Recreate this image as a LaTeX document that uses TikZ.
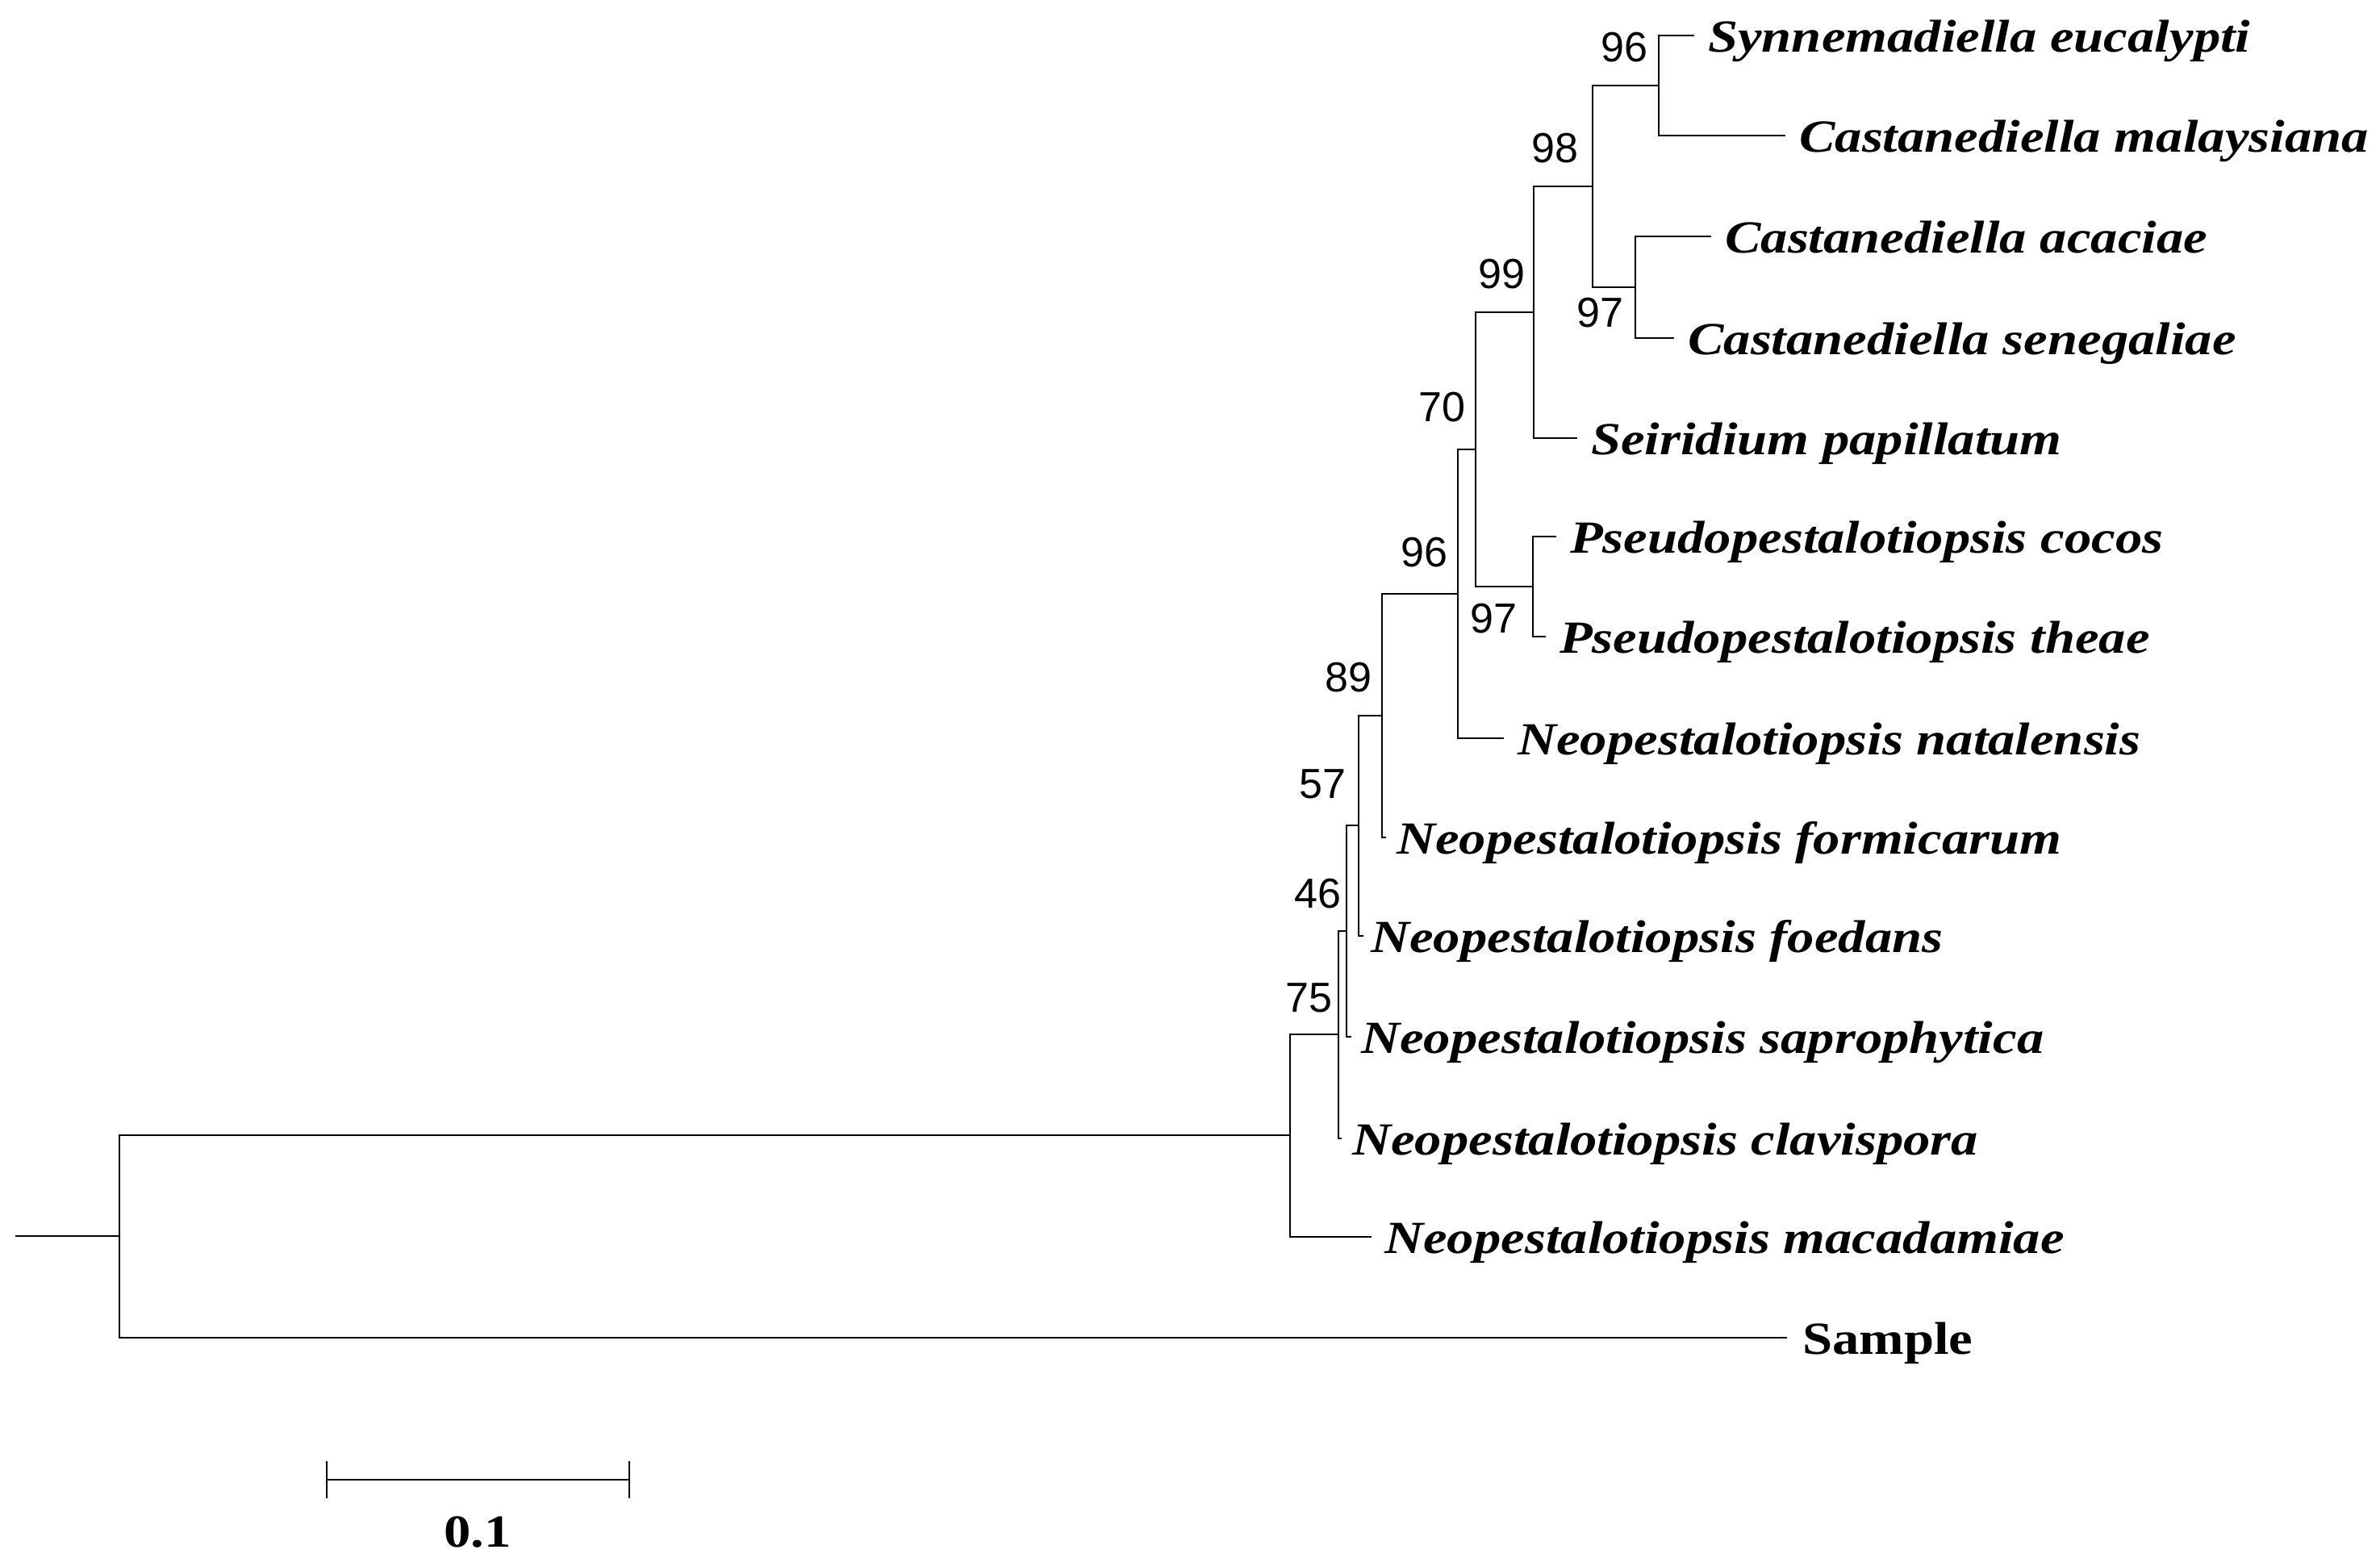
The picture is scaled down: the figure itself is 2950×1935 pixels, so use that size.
\documentclass[tikz,border=0pt]{standalone}
\usepackage{fontspec}
\setmainfont{Liberation Serif}
\newfontfamily\taxfont[FakeStretch=1.17]{Liberation Serif}
\newfontfamily\bootfont{Liberation Sans}
\usetikzlibrary{positioning}

\begin{document}
\begin{tikzpicture}[x=0.01cm,y=-0.01cm,line width=0.7pt,
  taxon/.style={anchor=base west,inner sep=0pt,font=\taxfont\fontsize{16.2}{18}\selectfont\bfseries\itshape},
  sample/.style={anchor=base west,inner sep=0pt,font=\taxfont\fontsize{16.2}{18}\selectfont\bfseries},
  boot/.style={inner sep=0pt,font=\bootfont\fontsize{14.8}{16}\selectfont}]
\useasboundingbox (0,0) rectangle (2950,1935);

\coordinate (t1) at (2100,44);
\coordinate (t2) at (2213,168);
\coordinate (t3) at (2121,293);
\coordinate (t4) at (2075,419);
\coordinate (t5) at (1955,543);
\coordinate (t6) at (1929,665);
\coordinate (t7) at (1916,789);
\coordinate (t8) at (1864,915);
\coordinate (t9) at (1718,1038);
\coordinate (t10) at (1690,1160);
\coordinate (t11) at (1675,1285);
\coordinate (t12) at (1663,1411);
\coordinate (t13) at (1700,1533);
\coordinate (t14) at (2215,1658);

\coordinate (n96a) at (2056,106);
\coordinate (n97c) at (2027,356);
\coordinate (n98) at (1974,231);
\coordinate (n99) at (1901,387);
\coordinate (n97p) at (1900,727);
\coordinate (n70) at (1829,557);
\coordinate (n96b) at (1807,736);
\coordinate (n89) at (1713,887);
\coordinate (n57) at (1684,1023);
\coordinate (n46) at (1669,1154);
\coordinate (n75) at (1659,1282);
\coordinate (nmac) at (1599,1407);
\coordinate (root) at (148,1532);
\coordinate (stub) at (19,1532);

\draw (stub)--(root);
\draw (root)|-(nmac) (root)|-(t14);
\draw (nmac)|-(n75) (nmac)|-(t13);
\draw (n75)|-(n46) (n75)|-(t12);
\draw (n46)|-(n57) (n46)|-(t11);
\draw (n57)|-(n89) (n57)|-(t10);
\draw (n89)|-(n96b) (n89)|-(t9);
\draw (n96b)|-(n70) (n96b)|-(t8);
\draw (n70)|-(n99) (n70)|-(n97p);
\draw (n97p)|-(t6) (n97p)|-(t7);
\draw (n99)|-(n98) (n99)|-(t5);
\draw (n98)|-(n96a) (n98)|-(n97c);
\draw (n96a)|-(t1) (n96a)|-(t2);
\draw (n97c)|-(t3) (n97c)|-(t4);

\node[taxon] (l1) at ([xshift=0.16cm,yshift=-0.2cm]t1) {Synnemadiella eucalypti};
\node[taxon] (l2) at ([xshift=0.16cm,yshift=-0.2cm]t2) {Castanediella malaysiana};
\node[taxon] (l3) at ([xshift=0.16cm,yshift=-0.2cm]t3) {Castanediella acaciae};
\node[taxon] (l4) at ([xshift=0.16cm,yshift=-0.2cm]t4) {Castanediella senegaliae};
\node[taxon] (l5) at ([xshift=0.16cm,yshift=-0.2cm]t5) {Seiridium papillatum};
\node[taxon] (l6) at ([xshift=0.16cm,yshift=-0.2cm]t6) {Pseudopestalotiopsis cocos};
\node[taxon] (l7) at ([xshift=0.16cm,yshift=-0.2cm]t7) {Pseudopestalotiopsis theae};
\node[taxon] (l8) at ([xshift=0.16cm,yshift=-0.2cm]t8) {Neopestalotiopsis natalensis};
\node[taxon] (l9) at ([xshift=0.12cm,yshift=-0.2cm]t9) {Neopestalotiopsis formicarum};
\node[taxon] (l10) at ([xshift=0.08cm,yshift=-0.2cm]t10) {Neopestalotiopsis foedans};
\node[taxon] (l11) at ([xshift=0.11cm,yshift=-0.2cm]t11) {Neopestalotiopsis saprophytica};
\node[taxon] (l12) at ([xshift=0.12cm,yshift=-0.2cm]t12) {Neopestalotiopsis clavispora};
\node[taxon] (l13) at ([xshift=0.15cm,yshift=-0.2cm]t13) {Neopestalotiopsis macadamiae};
\node[sample] (l14) at ([xshift=0.18cm,yshift=-0.2cm]t14) {Sample};

\node[boot,above left=0.28cm and 0.12cm of n96a] (b96a) {96};
\node[boot,above left=0.28cm and 0.16cm of n98] (b98) {98};
\node[boot,above left=0.28cm and 0.09cm of n99] (b99) {99};
\node[boot,below left=0.12cm and 0.13cm of n97c] (b97c) {97};
\node[boot,above left=0.33cm and 0.11cm of n70] (b70) {70};
\node[boot,above left=0.32cm and 0.11cm of n96b] (b96b) {96};
\node[boot,below left=0.2cm and 0.18cm of n97p] (b97p) {97};
\node[boot,above left=0.28cm and 0.11cm of n89] (b89) {89};
\node[boot,above left=0.32cm and 0.14cm of n57] (b57) {57};
\node[boot,above left=0.27cm and 0.05cm of n46] (b46) {46};
\node[boot,above left=0.26cm and 0.06cm of n75] (b75) {75};

\coordinate (sb1) at (405,1834);
\coordinate (sb2) at (780,1834);
\coordinate (sbm) at (592,1834);
\draw (sb1)--(sb2);
\draw ([yshift=0.23cm]sb1)--([yshift=-0.23cm]sb1);
\draw ([yshift=0.23cm]sb2)--([yshift=-0.23cm]sb2);
\node[sample,anchor=north] (sbl) at ([yshift=-0.44cm]sbm) {0.1};
\end{tikzpicture}
\end{document}
